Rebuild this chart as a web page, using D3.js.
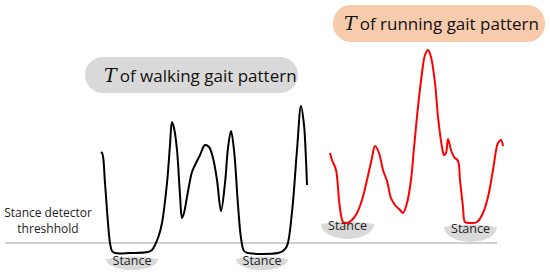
<!DOCTYPE html>
<html><head><meta charset="utf-8">
<script src="https://cdn.jsdelivr.net/npm/d3@7"></script>
<style>body{margin:0;background:#fff;}svg{display:block;}</style>
</head><body>
<script>
// time (t) and signal value (v)
const walkT = [1,2.5,5,8,10,12,15,30,48,52,55,59,62,67,70,72,74,77,80,82,84,87,92,96,100,105,109,113,117,121,125,128,131,134,138,141,144,148,178,183,187,192,197,201,204,206,207];
const walkV = [101,99,70,30,10,2,0,0,1,3,8,18,30,70,108,131,125,103,58,35,40,56,81,90,98,108,106,95,73,42,70,105,122,103,48,15,2,0,0,2,7,41,103,147,128,93,68];
const runT = [230,232,236,239,241,243,247,252,257,262,267,272,275,279,283,287,291,295,300,303,307,311,314,318,322,325,328,331,335,338,342,344,346,348,351,354,358,360,363,365,370,377,383,388,393,398,401,403];
const runV = [100,93,83,53,38,31,30,33,40,53,73,95,107,100,83,72,55,48,43,40,50,73,105,146,180,198,203,196,170,136,106,98,100,114,103,96,92,73,46,31,30,31,40,56,83,110,113,107];
const threshold = 10;
const thresholdSpan = [-95, 397];
const stanceLabels = ["Stance","Stance","Stance","Stance"];
const stanceT = [32, 162, 247.5, 370.5];
const stanceV = [-2, -2, 33, 30];
const stanceW = [52, 52, 53, 53];
const titles = ["of walking gait pattern", "of running gait pattern"];
const thresholdLabel = ["Stance detector", "threshhold"];

const W = 550, H = 276;
const svg = d3.select("body").append("svg").attr("width", W).attr("height", H);
const x = d3.scaleLinear().domain([0, 410]).range([100, 510]);
const y = d3.scaleLinear().domain([0, 200]).range([253, 53]);

// threshold line
svg.append("line")
  .attr("x1", x(thresholdSpan[0])).attr("x2", x(thresholdSpan[1]))
  .attr("y1", y(threshold)).attr("y2", y(threshold))
  .attr("stroke", "#cfcfcf").attr("stroke-width", 2);

// stance shapes
stanceT.forEach((t, i) => {
  const cx = x(t), top = y(stanceV[i]) + 4, rx = stanceW[i] / 2;
  const ry = i < 2 ? 11 : 15;
  const p = `M${cx - rx},${top} Q${cx},${top - 5} ${cx + rx},${top} A${rx},${ry} 0 0 1 ${cx - rx},${top} Z`;
  svg.append("path").attr("d", p).attr("fill", "#d9d9d9");
});

const line = d3.line().curve(d3.curveCatmullRom.alpha(0.5))
  .x(d => x(d[0])).y(d => y(d[1]));
svg.append("path").datum(walkT.map((t, i) => [t, walkV[i]]))
  .attr("d", line).attr("fill", "none").attr("stroke", "#000").attr("stroke-width", 2);
svg.append("path").datum(runT.map((t, i) => [t, runV[i]]))
  .attr("d", line).attr("fill", "none").attr("stroke", "#ff0000").attr("stroke-width", 2);

// stance labels
stanceT.forEach((t, i) => {
  svg.append("text").attr("x", x(t)).attr("y", y(stanceV[i]) + 10)
    .attr("text-anchor", "middle").attr("font-family", "Open Sans, sans-serif")
    .attr("font-size", 12.5).attr("fill", "#222").text(stanceLabels[i]);
});

// threshold label
thresholdLabel.forEach((s, i) => {
  svg.append("text").attr("x", 48).attr("y", 217 + i * 16)
    .attr("text-anchor", "middle").attr("font-family", "Open Sans, sans-serif")
    .attr("font-size", 12).attr("fill", "#222").text(s);
});

// title pills
const pills = [
  {x: 85, y: 57, w: 213, h: 36, fill: "#d9d9d9", tx: 104, ty: 82},
  {x: 333, y: 5, w: 212, h: 37, fill: "#f8cbad", tx: 344, ty: 30}
];
pills.forEach((p, i) => {
  svg.append("rect").attr("x", p.x).attr("y", p.y).attr("width", p.w).attr("height", p.h)
    .attr("rx", 18).attr("fill", p.fill);
  const t = svg.append("text").attr("x", p.tx).attr("y", p.ty)
    .attr("font-family", "Open Sans, sans-serif").attr("font-size", 17).attr("fill", "#111");
  t.append("tspan").attr("font-family", "DejaVu Serif, serif").attr("font-style", "italic")
    .attr("font-size", 19).text("T");
  t.append("tspan").attr("dx", 3).text(titles[i]);
});
</script>
</body></html>
